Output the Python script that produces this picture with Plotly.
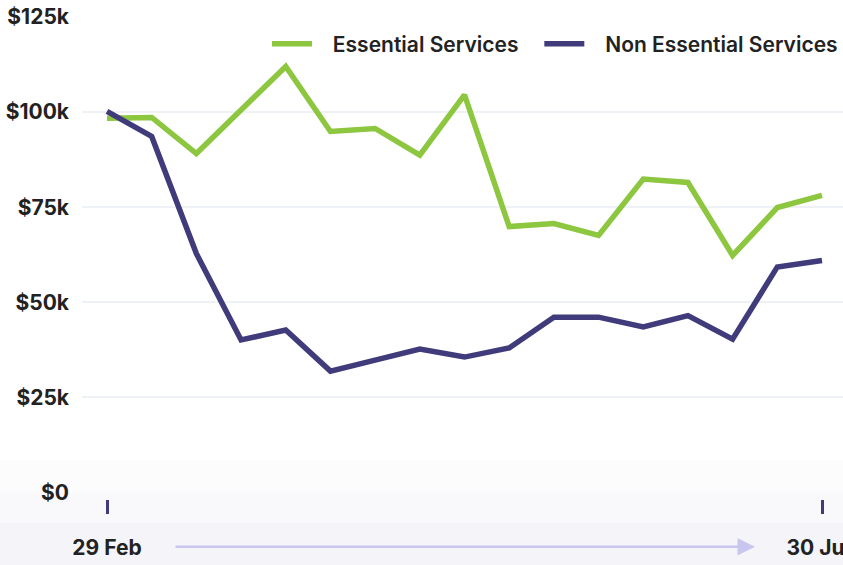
import plotly.graph_objects as go

# ---- data ----
periods = list(range(17))
essential = [98.4, 98.6, 89.1, 100.5, 112.0, 94.9, 95.7, 88.7, 104.5, 69.9, 70.7,
             67.6, 82.4, 81.5, 62.3, 74.9, 78.1]
non_essential = [100.2, 93.6, 62.8, 40.1, 42.7, 31.9, 34.8, 37.7, 35.6, 38.0, 46.1,
                 46.1, 43.5, 46.5, 40.3, 59.3, 61.0]
essential = [v * 1000 for v in essential]
non_essential = [v * 1000 for v in non_essential]
series_names = ["Essential Services", "Non Essential Services"]
y_tickvals = [0, 25000, 50000, 75000, 100000, 125000]
y_ticktext = ["$0", "$25k", "$50k", "$75k", "$100k", "$125k"]
x_tickvals = [0, 16]
x_ticktext = ["29 Feb", "30 Jun"]

GREEN = "#8dc63f"
NAVY = "#403c7b"
FONT = "Inter"
NB = "\u00a0"

fig = go.Figure()
fig.add_trace(go.Scatter(x=periods, y=essential, mode="lines",
                         name=NB * 3 + series_names[0] + NB * 3,
                         line=dict(color=GREEN, width=5.5)))
fig.add_trace(go.Scatter(x=periods, y=non_essential, mode="lines",
                         name=NB * 3 + series_names[1],
                         line=dict(color=NAVY, width=5.5)))

# subtle background shading at the bottom
bands = [(0.119, 0.0547, "rgba(246,246,250,0.3)"),
         (0.0547, -0.006, "rgba(246,246,250,0.65)"),
         (-0.006, -0.2, "rgba(245,245,249,1)")]
for top, bot, col in bands:
    fig.add_shape(type="rect", xref="paper", yref="paper", x0=-0.2, x1=1.1,
                  y0=bot, y1=top, fillcolor=col, line_width=0, layer="below")

# arrow between date labels
fig.add_annotation(x=14.5, y=-0.053, xref="x", yref="paper",
                   ax=1.5, ay=0, axref="x", ayref="pixel",
                   showarrow=True, arrowhead=2, arrowsize=1.4, arrowwidth=2.5,
                   arrowcolor="#c8c6ee", text="")

fig.update_layout(
    width=843, height=565, autosize=False,
    margin=dict(l=82, r=0, t=17, b=45, autoexpand=False),
    paper_bgcolor="white", plot_bgcolor="rgba(0,0,0,0)",
    font=dict(family=FONT, color="#222222"),
    showlegend=True,
    legend=dict(orientation="h", x=1.0, xanchor="right", y=0.946, yanchor="middle",
                font=dict(size=21, family=FONT, color="#222222", weight=600),
                bgcolor="rgba(0,0,0,0)", itemwidth=40, traceorder="normal"),
    xaxis=dict(range=[-0.5594, 16.47], anchor="free", position=0.0417,
               automargin=False,
               showgrid=False, zeroline=False, showline=False,
               tickvals=x_tickvals, ticktext=x_ticktext,
               ticks="outside", ticklen=14, tickwidth=3, tickcolor=NAVY,
               ticklabeloverflow="allow", ticklabelstandoff=16,
               tickfont=dict(size=21, family=FONT, color="#222222", weight=700)),
    yaxis=dict(range=[0, 125000], domain=[0.0547, 1], automargin=False,
               tickvals=y_tickvals, ticktext=y_ticktext,
               showgrid=True, gridcolor="#eef1f6", gridwidth=2,
               zeroline=False, showline=False, ticks="", ticklabelstandoff=12,
               ticklabeloverflow="allow",
               tickfont=dict(size=21, family=FONT, color="#222222", weight=700)),
)

fig.write_html("out.html",
               config={"responsive": False, "displayModeBar": False},
               default_width="843px", default_height="565px",
               post_script="document.body.style.margin='0';"
                           "document.body.style.overflow='hidden';")
